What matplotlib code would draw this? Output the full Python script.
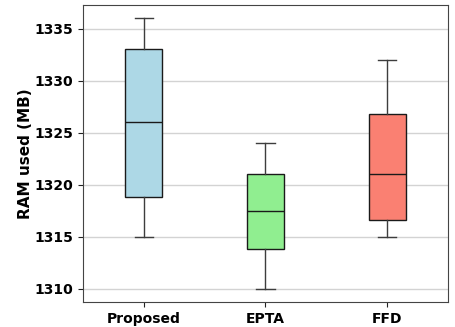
import matplotlib
matplotlib.use("Agg")
import matplotlib.pyplot as plt

categories = ["Proposed", "EPTA", "FFD"]
whislo = [1315.0, 1310.0, 1315.0]
q1 = [1318.8, 1313.8, 1316.6]
med = [1326.0, 1317.5, 1321.0]
q3 = [1333.0, 1321.0, 1326.8]
whishi = [1336.0, 1324.0, 1332.0]
colors = ["lightblue", "lightgreen", "salmon"]

fig = plt.figure(figsize=(4.55, 3.27), dpi=100)
ax = fig.add_axes([0.182, 0.0755, 0.803, 0.9105])

stats = []
for i, c in enumerate(categories):
    stats.append(dict(label=c, whislo=whislo[i], q1=q1[i], med=med[i], q3=q3[i], whishi=whishi[i], fliers=[]))

bp = ax.bxp(stats, positions=range(len(categories)), widths=0.3, patch_artist=True,
            showfliers=False, capwidths=0.15,
            boxprops=dict(edgecolor="#1a1a1a", linewidth=1.0),
            medianprops=dict(color="#1a1a1a", linewidth=1.0),
            whiskerprops=dict(color="#3d3d3d", linewidth=1.0),
            capprops=dict(color="#3d3d3d", linewidth=1.0))
for patch, col in zip(bp["boxes"], colors):
    patch.set_facecolor(col)

ax.set_xlim(-0.5, 2.5)
ax.set_ylim(1308.7, 1337.3)
ax.set_yticks([1310, 1315, 1320, 1325, 1330, 1335])
ax.yaxis.grid(True, color="#d3d3d3", linewidth=1.0)
ax.set_axisbelow(True)
for s in ax.spines.values():
    s.set_color("#444444")
ax.set_ylabel("RAM used (MB)", fontsize=11, fontweight="bold", labelpad=1)
for lab in ax.get_xticklabels() + ax.get_yticklabels():
    lab.set_fontweight("bold")
    lab.set_fontsize(10)
ax.tick_params(colors="#222222", labelcolor="black")

fig.savefig("out.png", dpi=100)
